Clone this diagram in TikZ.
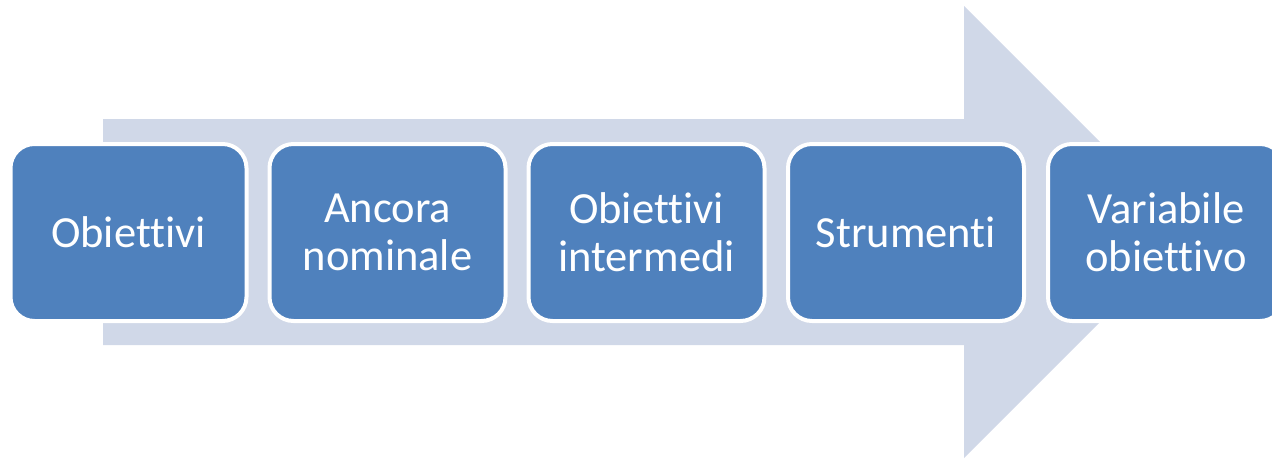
\documentclass[tikz,border=0pt]{standalone}
\usepackage{fontspec}
\setmainfont[Ligatures=NoCommon]{Carlito}
\definecolor{arrowfill}{HTML}{D0D8E8}
\definecolor{boxfill}{HTML}{4F81BD}
\tikzset{
  stagebox/.style={rectangle, rounded corners=24pt, fill=boxfill, draw=white, line width=4pt,
    minimum width=236pt, minimum height=177pt, inner sep=0pt, align=center, text=white,
    font=\fontsize{44.5pt}{48pt}\selectfont},
  bigarrow/.style={fill=arrowfill, draw=none}
}
\begin{document}
\begin{tikzpicture}[x=1pt,y=-1pt]
\useasboundingbox (0,0) rectangle (1272,459);
\clip (0,0) rectangle (1272,459);
\fill[bigarrow] (103,119) -- (964,119) -- (964,6) -- (1190,232) -- (964,458) -- (964,345) -- (103,345) -- cycle;
\node[stagebox] (b1) at (128.5,232.5) {Obiettivi};
\node[stagebox] (b2) at (387.5,232.5) {Ancora\\nominale};
\node[stagebox] (b3) at (646.5,232.5) {Obiettivi\\intermedi};
\node[stagebox] (b4) at (906,232.5) {Strumenti};
\node[stagebox] (b5) at (1166,232.5) {Variabile\\obiettivo};
\end{tikzpicture}
\end{document}
